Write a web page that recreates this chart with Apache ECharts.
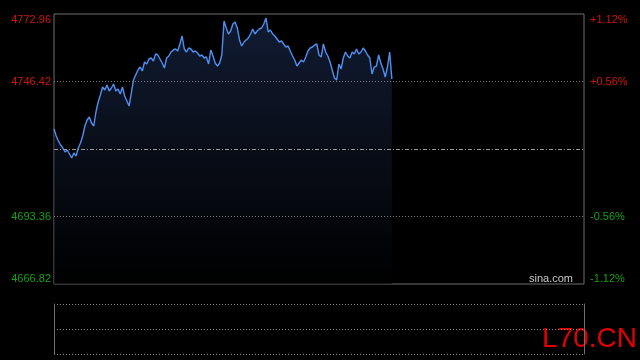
<!DOCTYPE html>
<html>
<head>
<meta charset="utf-8">
<script src="https://cdn.jsdelivr.net/npm/echarts@6/dist/echarts.min.js"></script>
<style>
html,body{margin:0;padding:0;background:#000;}
#c{width:640px;height:360px;}
</style>
</head>
<body>
<div id="c"></div>
<script>
// ---- data ----
const prevClose = 4719.89;
const priceTicks = [4666.82, 4693.36, 4719.89, 4746.42, 4772.96];
const pctLabels = ['-1.12%', '-0.56%', '', '+0.56%', '+1.12%'];
const labelTicks = [4666.82, 4693.36, 4746.42, 4772.96];
const prices = [
4727.75,4725.00,4723.04,4721.46,4720.28,4718.71,4719.50,4717.92,4716.35,4718.32,
4717.14,4720.28,4722.25,4725.00,4728.93,4731.29,4732.47,4730.11,4728.93,4734.44,
4738.37,4741.12,4744.26,4743.08,4745.05,4742.69,4743.87,4745.44,4742.69,4743.48,
4741.51,4744.26,4740.72,4738.76,4736.79,4741.90,4747.01,4748.98,4750.95,4752.12,
4750.55,4754.09,4753.30,4755.27,4755.66,4754.48,4757.24,4756.84,4755.27,4753.70,
4751.73,4755.66,4756.45,4758.02,4758.81,4759.20,4758.42,4761.17,4764.31,4759.20,
4758.02,4759.59,4759.20,4758.02,4758.42,4757.63,4756.45,4756.84,4755.66,4756.06,
4753.30,4758.81,4756.45,4753.70,4752.52,4753.70,4756.84,4770.21,4767.46,4765.10,
4766.28,4769.03,4769.81,4767.46,4762.74,4760.38,4761.95,4762.74,4763.53,4765.10,
4767.06,4765.10,4766.28,4767.06,4767.46,4769.03,4771.39,4765.88,4766.67,4765.10,
4764.31,4763.13,4761.95,4762.35,4761.17,4759.99,4760.38,4758.42,4756.45,4754.88,
4752.52,4753.70,4754.88,4754.09,4756.06,4758.42,4759.59,4759.99,4760.77,4761.17,
4756.84,4756.06,4761.17,4758.02,4756.45,4754.09,4750.95,4747.80,4747.01,4753.30,
4751.34,4755.66,4758.02,4756.45,4755.66,4758.02,4757.24,4759.20,4757.24,4758.02,
4759.59,4758.42,4756.84,4755.66,4749.37,4752.12,4752.52,4756.84,4753.70,4751.34,
4748.19,4752.12,4758.02,4747.41
];
// trading minutes 09:30-11:30, 13:01-15:00
const times = [];
(function(){
  function pad(n){return (n<10?'0':'')+n;}
  for (let m = 9*60+30; m <= 11*60+30; m++) times.push(pad(Math.floor(m/60))+':'+pad(m%60));
  for (let m = 13*60+1; m <= 15*60; m++) times.push(pad(Math.floor(m/60))+':'+pad(m%60));
})();

const chart = echarts.init(document.getElementById('c'), null, {renderer:'canvas'});
const font = 'Liberation Sans, Arial, sans-serif';
const upColor = '#d0140c';
const dnColor = '#16a016';
const gridColor = '#6f6f6f';

chart.setOption({
  backgroundColor: '#000',
  animation: false,
  grid: [
    {left: 54, right: 56, top: 14, height: 270, show: true, borderColor: gridColor, borderWidth: 1, backgroundColor: 'transparent'},
    {left: 54, right: 56, top: 304, height: 50, show: false}
  ],
  xAxis: [
    {type: 'category', gridIndex: 0, data: times, boundaryGap: false, show: false},
    {type: 'category', gridIndex: 1, data: times, boundaryGap: false, position: 'bottom',
     axisLine: {show: false}, axisTick: {show: false}, axisLabel: {show: false}, splitLine: {show: false}}
  ],
  yAxis: [
    {type: 'value', gridIndex: 0, min: priceTicks[0], max: priceTicks[4], position: 'left',
     axisLine: {show: false}, axisTick: {show: false}, splitLine: {show: false},
     axisLabel: {
       customValues: labelTicks, margin: 3, fontSize: 11, fontFamily: font,
       verticalAlignMaxLabel: 'top', verticalAlignMinLabel: 'bottom',
       formatter: function(v){ return (v > prevClose ? '{u|' : '{d|') + v.toFixed(2) + '}'; },
       rich: {u: {color: upColor, fontSize: 11, fontFamily: font}, d: {color: dnColor, fontSize: 11, fontFamily: font}}
     }},
    {type: 'value', gridIndex: 0, min: priceTicks[0], max: priceTicks[4], position: 'right',
     axisLine: {show: false}, axisTick: {show: false}, splitLine: {show: false},
     axisLabel: {
       customValues: labelTicks, margin: 6, fontSize: 11, fontFamily: font,
       verticalAlignMaxLabel: 'top', verticalAlignMinLabel: 'bottom',
       formatter: function(v){
         let idx = 0, best = 1e9;
         priceTicks.forEach(function(t, i){ const d = Math.abs(t - v); if (d < best){best = d; idx = i;} });
         return (v > prevClose ? '{u|' : '{d|') + pctLabels[idx] + '}';
       },
       rich: {u: {color: upColor, fontSize: 11, fontFamily: font}, d: {color: dnColor, fontSize: 11, fontFamily: font}}
     }},
    {type: 'value', gridIndex: 1, min: 0, max: 2, interval: 1, position: 'left',
     axisLine: {show: true, lineStyle: {color: gridColor}}, axisTick: {show: false}, axisLabel: {show: false},
     splitLine: {show: true, lineStyle: {color: '#8a8a8a', type: [1, 2]}}},
    {type: 'value', gridIndex: 1, min: 0, max: 2, interval: 1, position: 'right',
     axisLine: {show: true, lineStyle: {color: gridColor}}, axisTick: {show: false}, axisLabel: {show: false},
     splitLine: {show: false}}
  ],
  graphic: [
    {type: 'text', right: 67, top: 273, style: {text: 'sina.com', fill: '#c8c8c8', font: '11px ' + font}},
    {type: 'text', right: 3, top: 325, style: {text: 'L70.CN', fill: '#e50000', font: '28px ' + font}}
  ],
  series: [
    {
      type: 'line', xAxisIndex: 0, yAxisIndex: 0, data: prices, showSymbol: false, symbol: 'none',
      lineStyle: {color: '#4f8ff2', width: 1.4},
      areaStyle: {color: new echarts.graphic.LinearGradient(0, 0, 0, 1, [
        {offset: 0, color: 'rgba(28,46,84,0.85)'},
        {offset: 0.5, color: 'rgba(14,22,40,0.85)'},
        {offset: 1, color: 'rgba(0,0,0,0.9)'}
      ])},
      markLine: {
        silent: true, symbol: 'none', label: {show: false}, animation: false,
        data: [
          {yAxis: priceTicks[1], lineStyle: {color: '#7a7a7a', type: [1, 2], width: 1}},
          {yAxis: priceTicks[3], lineStyle: {color: '#7a7a7a', type: [1, 2], width: 1}},
          {yAxis: priceTicks[2], lineStyle: {color: '#9a9a9a', type: [4, 2, 1, 2], width: 1}}
        ]
      },
      z: 3
    }
  ]
});
</script>
</body>
</html>
